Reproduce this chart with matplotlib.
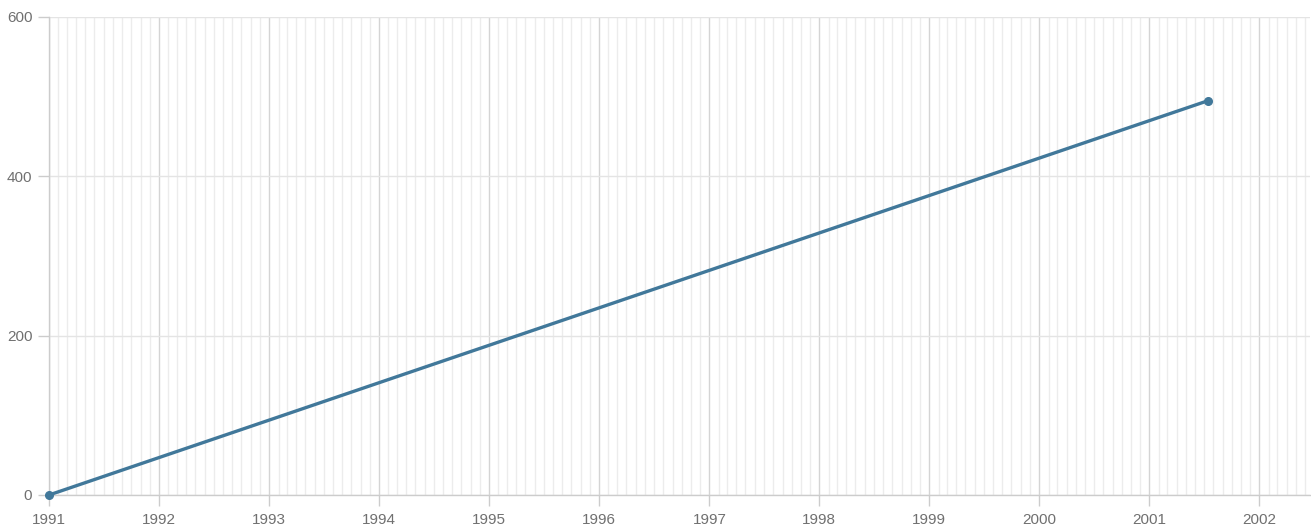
"""Single series line over 1991-2002 with monthly minor grid."""

import matplotlib

matplotlib.use("Agg")

import matplotlib.dates as mdates  # noqa: E402
import matplotlib.pyplot as plt  # noqa: E402
import numpy as np  # noqa: E402

dates = np.array(["1991-01-01", "2001-07-15"], dtype="datetime64[D]")
values = [0, 495]
y_ticks = [0, 200, 400, 600]

plt.rcParams["font.family"] = ["Liberation Sans", "DejaVu Sans"]

fig = plt.figure(figsize=(13.11, 5.29), dpi=100)
ax = fig.add_axes([49 / 1311, 34 / 529, 1261 / 1311, 478 / 529])

ax.plot(dates, values, color="#41789a", linewidth=2.4, marker="o",
        markersize=5.5, solid_capstyle="round", zorder=3, clip_on=False)

ax.set_xlim(np.datetime64("1991-01-01"), np.datetime64("2002-06-18"))
ax.set_ylim(0, 600)
ax.set_yticks(y_ticks)

ax.xaxis.set_major_locator(mdates.YearLocator())
ax.xaxis.set_major_formatter(mdates.DateFormatter("%Y"))
ax.xaxis.set_minor_locator(mdates.MonthLocator())

ax.grid(which="major", axis="x", color="#d4d4d4", linewidth=1)
ax.grid(which="minor", axis="x", color="#ececec", linewidth=1)
ax.grid(which="major", axis="y", color="#e4e4e4", linewidth=1)
ax.set_axisbelow(True)

for side in ("top", "right"):
    ax.spines[side].set_visible(False)
for side in ("left", "bottom"):
    ax.spines[side].set_color("#cccccc")
    ax.spines[side].set_linewidth(1)

ax.tick_params(axis="both", which="major", colors="#707070", labelsize=11,
               length=8, width=1, color="#cccccc")
ax.tick_params(axis="x", which="major", pad=5)
ax.tick_params(axis="x", which="minor", length=0)
ax.tick_params(axis="y", pad=4)

fig.savefig("out.png", dpi=100)
plt.close(fig)
